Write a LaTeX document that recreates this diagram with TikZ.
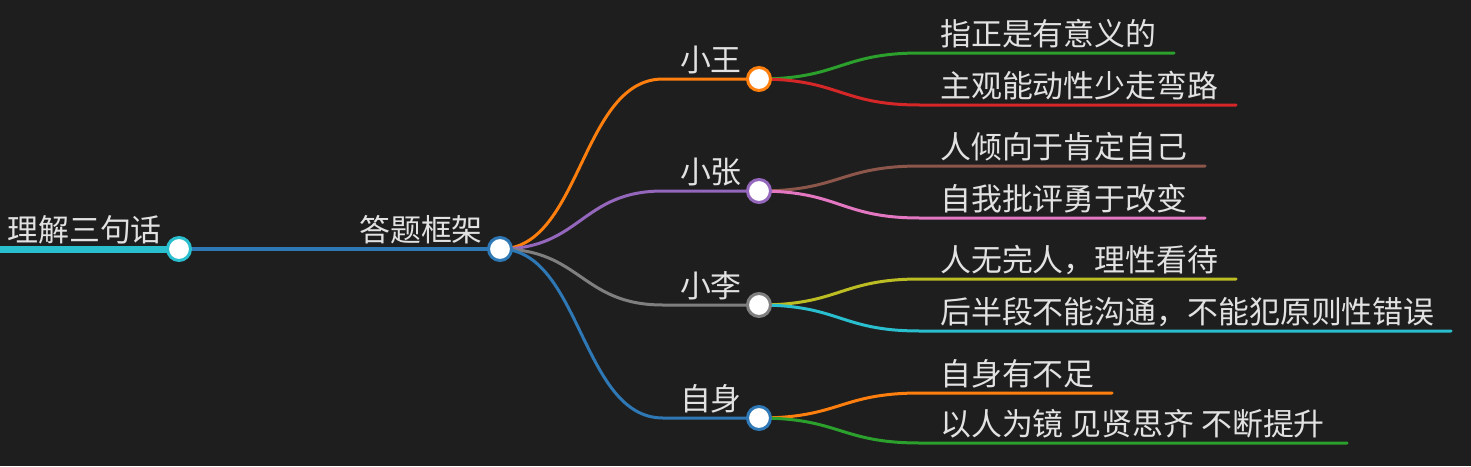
\documentclass[tikz,border=0pt]{standalone}
\usepackage{fontspec}
\setmainfont{Noto Sans CJK SC}
\definecolor{bg}{HTML}{1E1E1E}
\definecolor{txt}{HTML}{E2E2E2}
\definecolor{cblue}{HTML}{2F78B6}
\definecolor{corange}{HTML}{FF7F0E}
\definecolor{cgreen}{HTML}{2CA02C}
\definecolor{cred}{HTML}{D62728}
\definecolor{cpurple}{HTML}{9467BD}
\definecolor{cbrown}{HTML}{8C564B}
\definecolor{cpink}{HTML}{E377C2}
\definecolor{cgray}{HTML}{7F7F7F}
\definecolor{colive}{HTML}{BCBD22}
\definecolor{ccyan}{HTML}{2ABFCF}
\pgfdeclarelayer{bglayer}
\pgfdeclarelayer{lines}
\pgfsetlayers{bglayer,lines,main}
\begin{document}
\begin{tikzpicture}[x=1pt,y=-1pt,
  dot/.style={circle, draw=#1, fill=white, line width=3pt, minimum size=23pt, inner sep=0pt},
  lbl/.style={text=txt, font=\fontsize{30.9}{36}\selectfont, inner sep=0pt},
  edge/.style={line width=3pt, draw=#1, line cap=round}]
\begin{pgfonlayer}{bglayer}
\fill[bg] (0,0) rectangle (1471,466);
\end{pgfonlayer}
\useasboundingbox (0,0) rectangle (1471,466);
% circles
\node[dot=ccyan] (root) at (179,249) {};
\node[dot=cblue] (frame) at (500,249) {};
\node[dot=corange] (wang) at (759,79) {};
\node[dot=cpurple] (zhang) at (759,191) {};
\node[dot=cgray] (li) at (759,305) {};
\node[dot=cblue] (self) at (759,418) {};
% labels
\node[lbl, anchor=base east] (troot) at (162,241) {理解三句话};
\node[lbl, anchor=base east] (tframe) at (483,241) {答题框架};
\node[lbl, anchor=base east] (twang) at (742,71) {小王};
\node[lbl, anchor=base east] (tzhang) at (742,183) {小张};
\node[lbl, anchor=base east] (tli) at (742,297) {小李};
\node[lbl, anchor=base east] (tself) at (742,410) {自身};
\node[lbl, anchor=base west] (ta1) at (940,45) {指正是有意义的};
\node[lbl, anchor=base west] (ta2) at (940,97) {主观能动性少走弯路};
\node[lbl, anchor=base west] (tb1) at (940,158) {人倾向于肯定自己};
\node[lbl, anchor=base west] (tb2) at (940,210) {自我批评勇于改变};
\node[lbl, anchor=base west] (tc1) at (940,271) {人无完人，理性看待};
\node[lbl, anchor=base west] (tc2) at (940,323) {后半段不能沟通，不能犯原则性错误};
\node[lbl, anchor=base west] (td1) at (940,385) {自身有不足};
\node[lbl, anchor=base west] (td2) at (940,435) {以人为镜 见贤思齐 不断提升};
% coordinates
\coordinate (s0) at (0,249);
\coordinate (wang0) at (663,79);
\coordinate (zhang0) at (663,191);
\coordinate (li0) at (663,305);
\coordinate (self0) at (663,418);
\coordinate (a1s) at (920,53);  \coordinate (a1e) at (1174,53);
\coordinate (a2s) at (920,105); \coordinate (a2e) at (1236,105);
\coordinate (b1s) at (920,166); \coordinate (b1e) at (1205,166);
\coordinate (b2s) at (920,218); \coordinate (b2e) at (1205,218);
\coordinate (c1s) at (920,279); \coordinate (c1e) at (1236,279);
\coordinate (c2s) at (920,331); \coordinate (c2e) at (1451,331);
\coordinate (d1s) at (920,393); \coordinate (d1e) at (1112,393);
\coordinate (d2s) at (920,443); \coordinate (d2e) at (1347,443);
\begin{pgfonlayer}{lines}
\draw[line width=7pt, ccyan] (s0) -- (root.center);
\draw[line width=4.5pt, cblue] (root.center) -- (frame.center);
\draw[edge=corange] (frame.center) .. controls (581,249) and (581,79) .. (wang0) -- (wang.center);
\draw[edge=cpurple] (frame.center) .. controls (581,249) and (581,191) .. (zhang0) -- (zhang.center);
\draw[edge=cgray] (frame.center) .. controls (581,249) and (581,305) .. (li0) -- (li.center);
\draw[edge=cblue] (frame.center) .. controls (581,249) and (581,418) .. (self0) -- (self.center);
\draw[edge=cgreen] (wang.center) .. controls (840,79) and (840,53) .. (a1s) -- (a1e);
\draw[edge=cred] (wang.center) .. controls (840,79) and (840,105) .. (a2s) -- (a2e);
\draw[edge=cbrown] (zhang.center) .. controls (840,191) and (840,166) .. (b1s) -- (b1e);
\draw[edge=cpink] (zhang.center) .. controls (840,191) and (840,218) .. (b2s) -- (b2e);
\draw[edge=colive] (li.center) .. controls (840,305) and (840,279) .. (c1s) -- (c1e);
\draw[edge=ccyan] (li.center) .. controls (840,305) and (840,331) .. (c2s) -- (c2e);
\draw[edge=corange] (self.center) .. controls (840,418) and (840,393) .. (d1s) -- (d1e);
\draw[edge=cgreen] (self.center) .. controls (840,418) and (840,443) .. (d2s) -- (d2e);
\end{pgfonlayer}
\end{tikzpicture}
\end{document}
